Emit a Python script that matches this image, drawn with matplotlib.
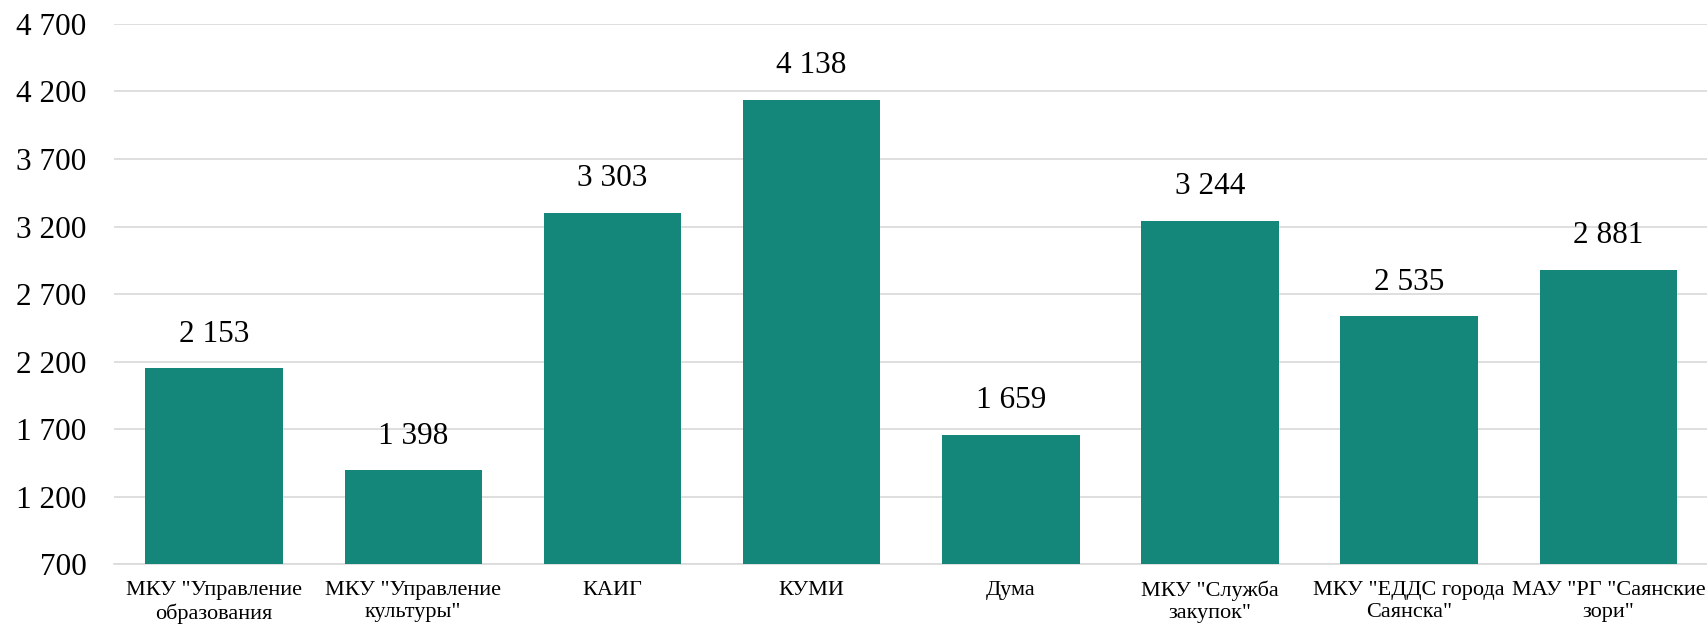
import matplotlib.pyplot as plt
from matplotlib.ticker import FuncFormatter

plt.rcParams['font.family'] = ['Liberation Serif', 'DejaVu Serif']

categories = [
    'МКУ "Управление\nобразования',
    'МКУ "Управление\nкультуры"',
    'КАИГ',
    'КУМИ',
    'Дума',
    'МКУ "Служба\nзакупок"',
    'МКУ "ЕДДС города\nСаянска"',
    'МАУ "РГ "Саянские\nзори"',
]
values = [2153, 1398, 3303, 4138, 1659, 3244, 2535, 2881]
yticks = [700, 1200, 1700, 2200, 2700, 3200, 3700, 4200, 4700]


def spaced(v, pos=None):
    return f"{int(v):,}".replace(",", " ")


fig = plt.figure(figsize=(17.08, 6.27), dpi=100)
ax = fig.add_axes([0.067, 0.10, 0.933, 0.862])

x = range(len(categories))
bars = ax.bar(x, values, width=0.69, color='#15877A', zorder=3)

for rect, v in zip(bars, values):
    ax.annotate(spaced(v), (rect.get_x() + rect.get_width() / 2, v),
                xytext=(0, 14), textcoords='offset points',
                ha='center', va='bottom', fontsize=22.5)

ax.set_ylim(700, 4700)
ax.set_xlim(-0.5, len(categories) - 0.5)
ax.set_yticks(yticks)
ax.yaxis.set_major_formatter(FuncFormatter(spaced))
ax.grid(axis='y', color='#d9d9d9', linewidth=1.2, zorder=0)

ax.set_xticks(list(x))
ax.set_xticklabels(categories, fontsize=16, linespacing=1.2)
ax.tick_params(axis='x', length=0, pad=12)
ax.tick_params(axis='y', length=0, pad=20, labelsize=22.5)

for side in ['top', 'right', 'left']:
    ax.spines[side].set_visible(False)
ax.spines['bottom'].set_color('#d9d9d9')
ax.spines['bottom'].set_linewidth(1.2)

fig.savefig('out.png', dpi=100)
